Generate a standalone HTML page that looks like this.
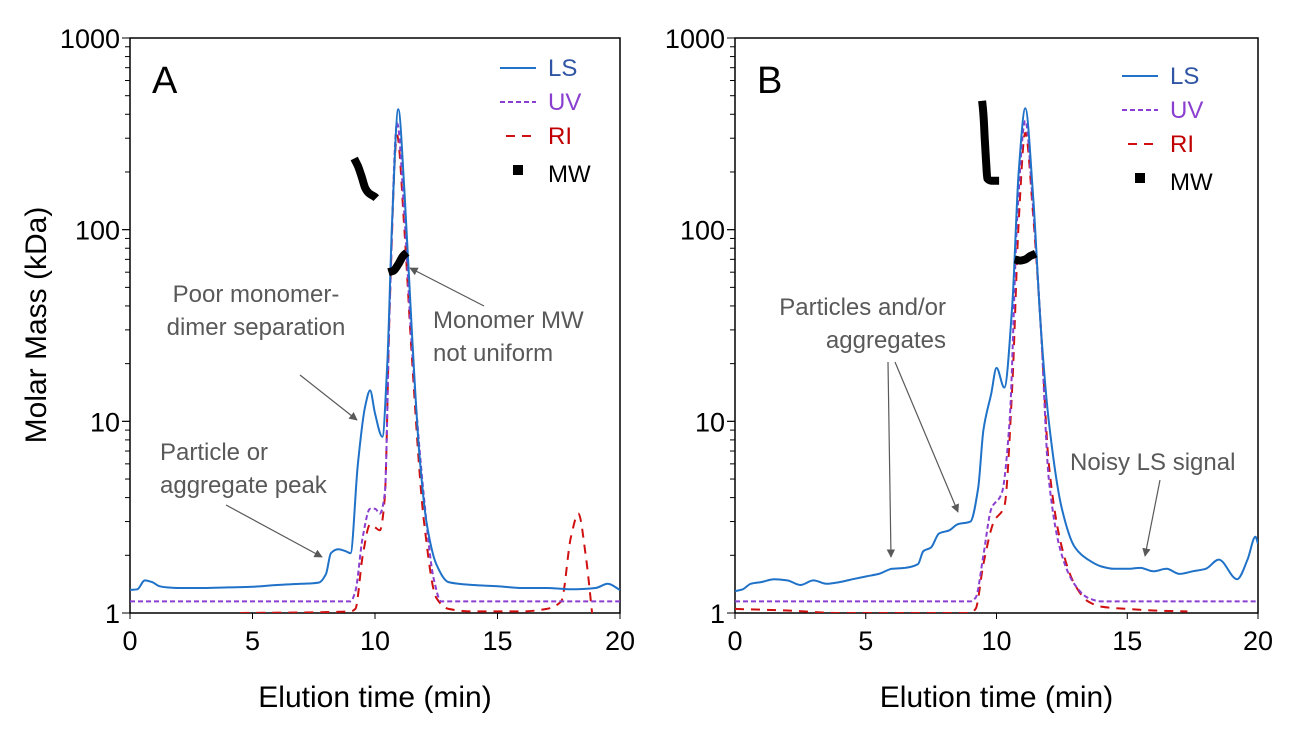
<!DOCTYPE html>
<html><head><meta charset="utf-8"><style>
body{margin:0;background:#fff}
svg{display:block;font-family:"Liberation Sans",sans-serif}
</style></head><body>
<svg id="c" width="1300" height="738"></svg>
<script>
// Panel A data
const aLsT=[0,0.3,0.6,0.9,1.2,1.5,2,3,4,5,6,7,7.7,8.0,8.2,8.5,8.8,9.0,9.3,9.6,9.8,10.0,10.3,10.5,10.7,10.95,11.2,11.5,11.8,12.1,12.5,13,14,15,16,17,18,19,19.5,20];
const aLsV=[1.32,1.33,1.48,1.45,1.38,1.36,1.35,1.35,1.36,1.37,1.4,1.42,1.44,1.6,2.05,2.15,2.1,2.05,6,12,14.5,11,8.3,20,110,425,160,30,7,3,1.8,1.45,1.4,1.38,1.35,1.35,1.33,1.35,1.42,1.32];
const aUvT=[0,9.0,9.2,9.5,9.8,10.0,10.2,10.4,10.6,10.9,11.2,11.5,12.0,12.4,12.7,20];
const aUvV=[1.15,1.15,1.3,2.5,3.5,3.5,3.3,4.2,40,360,120,25,4,1.5,1.15,1.15];
const aRiT=[4.5,9.0,9.2,9.5,9.8,10.0,10.2,10.4,10.6,10.9,11.2,11.5,12.0,12.5,13,14,16,17,17.6,18.0,18.3,18.6,18.9];
const aRiV=[1.0,1.02,1.05,2.0,2.9,2.8,2.7,4,40,310,100,22,3,1.2,1.05,1.02,1.02,1.05,1.15,2.5,3.3,2.0,0.9];
const aMw1T=[9.15,9.3,9.45,9.6,9.75,10.0,10.05];
const aMw1V=[235,215,190,165,155,148,146];
const aMw2T=[10.55,10.75,10.95,11.15,11.3];
const aMw2V=[60,61,66,73,76];
// Panel B data
const bLsT=[0,0.3,0.6,1,1.5,2,2.5,3,3.5,4,4.5,5,5.5,6,6.5,7,7.2,7.5,7.8,8.2,8.5,9.0,9.3,9.5,9.8,10.0,10.3,10.6,10.85,11.1,11.4,11.7,12.0,12.5,13,13.5,14,14.5,15,15.5,16,16.5,17,17.5,18,18.5,19.2,19.6,19.9,20];
const bLsV=[1.3,1.33,1.42,1.45,1.5,1.48,1.4,1.48,1.42,1.45,1.5,1.55,1.6,1.7,1.72,1.8,2.1,2.2,2.6,2.7,2.9,3.0,4.5,9,14,19,15,40,200,430,150,30,10,3.5,2.2,1.9,1.75,1.7,1.7,1.72,1.65,1.7,1.6,1.65,1.7,1.9,1.5,1.9,2.5,2.3];
const bUvT=[0,9.0,9.2,9.5,9.8,10.2,10.5,10.8,11.1,11.4,11.7,12.0,12.5,13,13.5,14,20];
const bUvV=[1.15,1.15,1.2,2,3.5,4.2,10,120,370,130,30,5,2.0,1.4,1.2,1.15,1.15];
const bRiT=[0,2,4,9.0,9.2,9.5,9.9,10.3,10.6,10.85,11.1,11.4,11.7,12.0,12.5,13,13.5,14,15,16,17.3];
const bRiV=[1.05,1.03,1.0,1.0,1.05,1.8,3,3.6,15,110,320,120,30,6,2.2,1.4,1.15,1.08,1.05,1.03,1.02];
const bMw1T=[9.45,9.5,9.55,9.6,9.65,9.8,10.0,10.1];
const bMw1V=[470,400,300,230,185,180,180,180];
const bMw2T=[10.7,10.9,11.1,11.3,11.5];
const bMw2V=[70,69,70,73,75];
const xTicks=[0,5,10,15,20];
const yTicks=[1,10,100,1000];

const NS="http://www.w3.org/2000/svg";
const svg=document.getElementById('c');
function el(tag,attrs,parent,text){const e=document.createElementNS(NS,tag);for(const k in attrs)e.setAttribute(k,attrs[k]);if(text!==undefined)e.textContent=text;(parent||svg).appendChild(e);return e;}
function path(pts){ // monotone cubic (Fritsch-Carlson)
  const n=pts.length;if(n<2)return"";
  const dx=[],s=[];for(let i=0;i<n-1;i++){dx[i]=pts[i+1][0]-pts[i][0];s[i]=(pts[i+1][1]-pts[i][1])/dx[i];}
  const m=[s[0]];for(let i=1;i<n-1;i++){m[i]=(s[i-1]*s[i]<=0)?0:(dx[i-1]+dx[i])*3/((2*dx[i]+dx[i-1])/s[i-1]+(dx[i]+2*dx[i-1])/s[i]);}m[n-1]=s[n-2];
  let d="M"+pts[0][0].toFixed(1)+","+pts[0][1].toFixed(1);
  for(let i=0;i<n-1;i++){const h=dx[i]/3;const p1=pts[i],p2=pts[i+1];
    d+="C"+(p1[0]+h).toFixed(1)+","+(p1[1]+m[i]*h).toFixed(1)+" "+(p2[0]-h).toFixed(1)+","+(p2[1]-m[i+1]*h).toFixed(1)+" "+p2[0].toFixed(1)+","+p2[1].toFixed(1);}
  return d;}
el('defs',{}).innerHTML='<marker id="ar" viewBox="0 0 10 10" refX="9" refY="5" markerWidth="7" markerHeight="7" orient="auto"><path d="M0,0L10,5L0,10z" fill="#595959"/></marker><clipPath id="clA"><rect x="130" y="38" width="490" height="575"/></clipPath><clipPath id="clB"><rect x="735" y="38" width="523" height="575"/></clipPath>';

function panel(cfg){
  const g=el('g',{}); 
  const x=t=>cfg.x0+(t/20)*(cfg.x1-cfg.x0);
  const y=v=>cfg.y1-(Math.log10(v)/3)*(cfg.y1-cfg.y0);
  const frame=el('rect',{x:cfg.x0,y:cfg.y0,width:cfg.x1-cfg.x0,height:cfg.y1-cfg.y0,fill:'none',stroke:'#000','stroke-width':1.5},g);
  
  for(let d=0;d<3;d++)for(let m=1;m<=10;m++){const v=Math.pow(10,d)*m;const yy=y(v);el('line',{x1:cfg.x0-(m===1||m===10?8:5),x2:cfg.x0,y1:yy,y2:yy,stroke:'#000','stroke-width':1},g);}
  yTicks.forEach(v=>{const t=el('text',{x:cfg.x0-10,y:y(v)+10,'text-anchor':'end','font-size':27},g,String(v));});
  xTicks.forEach(v=>{el('line',{x1:x(v),x2:x(v),y1:cfg.y1,y2:cfg.y1+6,stroke:'#000'},g);const t=el('text',{x:x(v),y:cfg.y1+37,'text-anchor':'middle','font-size':27},g,String(v));});
  const xt=el('text',{x:(cfg.x0+cfg.x1)/2,y:707,'text-anchor':'middle','font-size':30},g,'Elution time (min)');
  
  const pg=el('g',{'clip-path':'url(#cl'+cfg.id+')'},g);
  function series(T,V,attrs,name){const p=el('path',Object.assign({d:path(T.map((t,i)=>[x(t),y(V[i])])),fill:'none'},attrs),pg);}
  series(cfg.ri[0],cfg.ri[1],{stroke:'#d01010','stroke-width':2,'stroke-dasharray':'9,7'},'ri-line');
  series(cfg.uv[0],cfg.uv[1],{stroke:'#8a3fd0','stroke-width':2,'stroke-dasharray':'5,3'},'uv-line');
  series(cfg.ls[0],cfg.ls[1],{stroke:'#1f72c8','stroke-width':2},'ls-line');
  series(cfg.mw1[0],cfg.mw1[1],{stroke:'#000','stroke-width':8},'mw-aggregate');
  series(cfg.mw2[0],cfg.mw2[1],{stroke:'#000','stroke-width':8},'mw-monomer');
  const lab=el('text',{x:cfg.x0+22,y:93,'font-size':38},g,cfg.id);
  const lx=cfg.lx,ly=cfg.ly;
  const lg=el('g',{},g);
  el('line',{x1:lx,x2:lx+36,y1:ly,y2:ly,stroke:'#1f72c8','stroke-width':2},lg);
  el('text',{x:lx+48,y:ly+8,'font-size':24,fill:'#2f55a4'},lg,'LS');
  el('line',{x1:lx,x2:lx+36,y1:ly+34,y2:ly+34,stroke:'#8a3fd0','stroke-width':2,'stroke-dasharray':'5,3'},lg);
  el('text',{x:lx+48,y:ly+42,'font-size':24,fill:'#8a3fd0'},lg,'UV');
  el('line',{x1:lx+6,x2:lx+36,y1:ly+68,y2:ly+68,stroke:'#d01010','stroke-width':2,'stroke-dasharray':'9,7'},lg);
  el('text',{x:lx+48,y:ly+76,'font-size':24,fill:'#c00000'},lg,'RI');
  el('rect',{x:lx+13,y:ly+97,width:10,height:10,fill:'#000'},lg);
  el('text',{x:lx+48,y:ly+114,'font-size':24,fill:'#000'},lg,'MW');
  return g;
}
const gA=panel({id:'A',x0:130,x1:620,y0:38,y1:613,lx:500,ly:68,ls:[aLsT,aLsV],uv:[aUvT,aUvV],ri:[aRiT,aRiV],mw1:[aMw1T,aMw1V],mw2:[aMw2T,aMw2V]});
const gB=panel({id:'B',x0:735,x1:1258,y0:38,y1:613,lx:1122,ly:76,ls:[bLsT,bLsV],uv:[bUvT,bUvV],ri:[bRiT,bRiV],mw1:[bMw1T,bMw1V],mw2:[bMw2T,bMw2V]});
const yt=el('text',{x:0,y:0,'text-anchor':'middle','font-size':30,transform:'translate(46,325) rotate(-90)'},svg,'Molar Mass (kDa)');

function note(lines,x,y,anchor,name){const t=el('text',{x:x,y:y,'font-size':24,fill:'#595959','text-anchor':anchor});lines.forEach((s,i)=>el('tspan',{x:x,dy:i?33:0},t,s));}
function arrow(x1,y1,x2,y2,name){const a=el('line',{x1,y1,x2,y2,stroke:'#595959','stroke-width':1.2,'marker-end':'url(#ar)'});}
note(['Poor monomer-','dimer separation'],256,302,'middle','annotation-separation');
arrow(300,375,357,420,'arrow-separation');
note(['Particle or','aggregate peak'],160,460,'start','annotation-particle');
arrow(226,505,322,557,'arrow-particle');
note(['Monomer MW','not uniform'],433,328,'start','annotation-monomer');
arrow(484,306,410,268,'arrow-monomer');
note(['Particles and/or','aggregates'],946,315,'end','annotation-aggregates');
arrow(888,362,891,557,'arrow-aggregates-1');
arrow(895,362,958,512,'arrow-aggregates-2');
note(['Noisy LS signal'],1070,470,'start','annotation-noisy');
arrow(1160,480,1145,556,'arrow-noisy');
</script>
</body></html>
